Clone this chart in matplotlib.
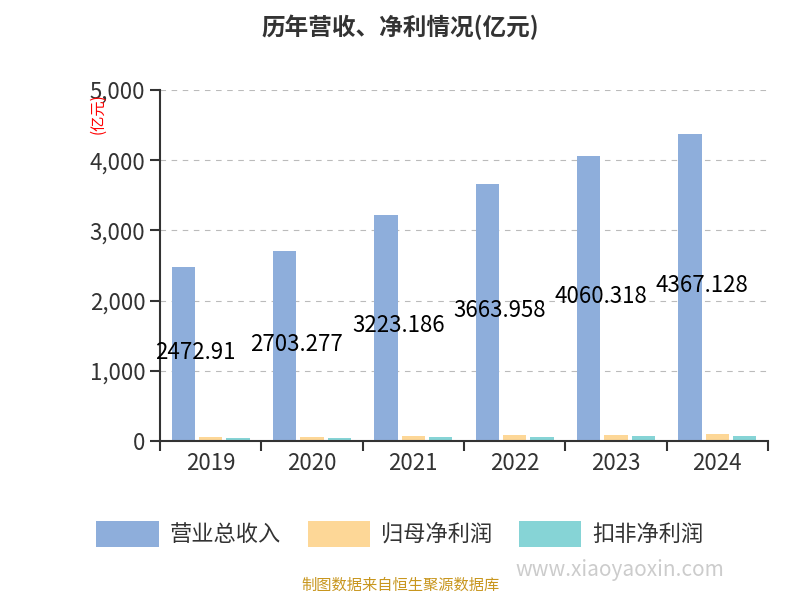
import numpy as np
import matplotlib.pyplot as plt

plt.rcParams['font.family'] = ['Noto Sans CJK SC', 'DejaVu Sans']

years = ['2019', '2020', '2021', '2022', '2023', '2024']
revenue = [2472.91, 2703.277, 3223.186, 3663.958, 4060.318, 4367.128]
net_profit = [62, 52, 76, 90, 90, 95]
deducted_profit = [48, 48, 62, 62, 76, 76]
revenue_labels = ['2472.91', '2703.277', '3223.186', '3663.958', '4060.318', '4367.128']

fig = plt.figure(figsize=(8, 6), dpi=100)
ax = fig.add_axes([0.2, 0.265, 0.76, 0.585])

x = np.arange(len(years))
w = 0.23
ax.bar(x - 0.27, revenue, w, color='#8eaedb', label='营业总收入')
ax.bar(x, net_profit, w, color='#fdd797', label='归母净利润')
ax.bar(x + 0.27, deducted_profit, w, color='#86d4d6', label='扣非净利润')

for xi, v, t in zip(x, revenue, revenue_labels):
    ax.text(xi - 0.15, v / 2 + 30, t, ha='center', va='center', fontsize=16, color='black')

ax.set_xlim(-0.5, len(years) - 0.5)
ax.set_ylim(0, 5000)
ax.set_yticks(range(0, 5001, 1000))
ax.set_yticklabels(['0', '1,000', '2,000', '3,000', '4,000', '5,000'])
ax.set_xticks(x)
ax.set_xticklabels(years)
ax.set_xticks(np.arange(-0.5, len(years)), minor=True)
ax.tick_params(axis='x', which='major', length=0, labelsize=16, colors='#333333', pad=8)
ax.tick_params(axis='x', which='minor', length=7, width=1.5, color='#333333')
ax.tick_params(axis='y', length=7, width=1.5, color='#333333', labelsize=16, labelcolor='#333333')
ax.yaxis.grid(True, linestyle=(0, (5, 5)), color='#bbbbbb')
ax.set_axisbelow(True)
for s in ['top', 'right']:
    ax.spines[s].set_visible(False)
for s in ['left', 'bottom']:
    ax.spines[s].set_color('#333333')
    ax.spines[s].set_linewidth(1.5)

fig.text(0.122, 0.81, '(亿元)', rotation=90, color='red', fontsize=11, ha='center', va='center')

fig.text(0.5, 0.955, '历年营收、净利情况(亿元)', ha='center', va='center',
         fontsize=17, fontweight='bold', color='#333333')
fig.legend(loc='center', bbox_to_anchor=(0.5, 0.11), ncol=3, frameon=False,
           fontsize=16, handlelength=2.8, handleheight=1.4, columnspacing=1.2,
           handletextpad=0.5, labelcolor='#333333')
fig.text(0.5, 0.017, '制图数据来自恒生聚源数据库', ha='center', fontsize=11, color='#c8961e')
fig.text(0.775, 0.04, 'www.xiaoyaoxin.com', ha='center', fontsize=15, color='#cccccc')

fig.savefig('out.png')
